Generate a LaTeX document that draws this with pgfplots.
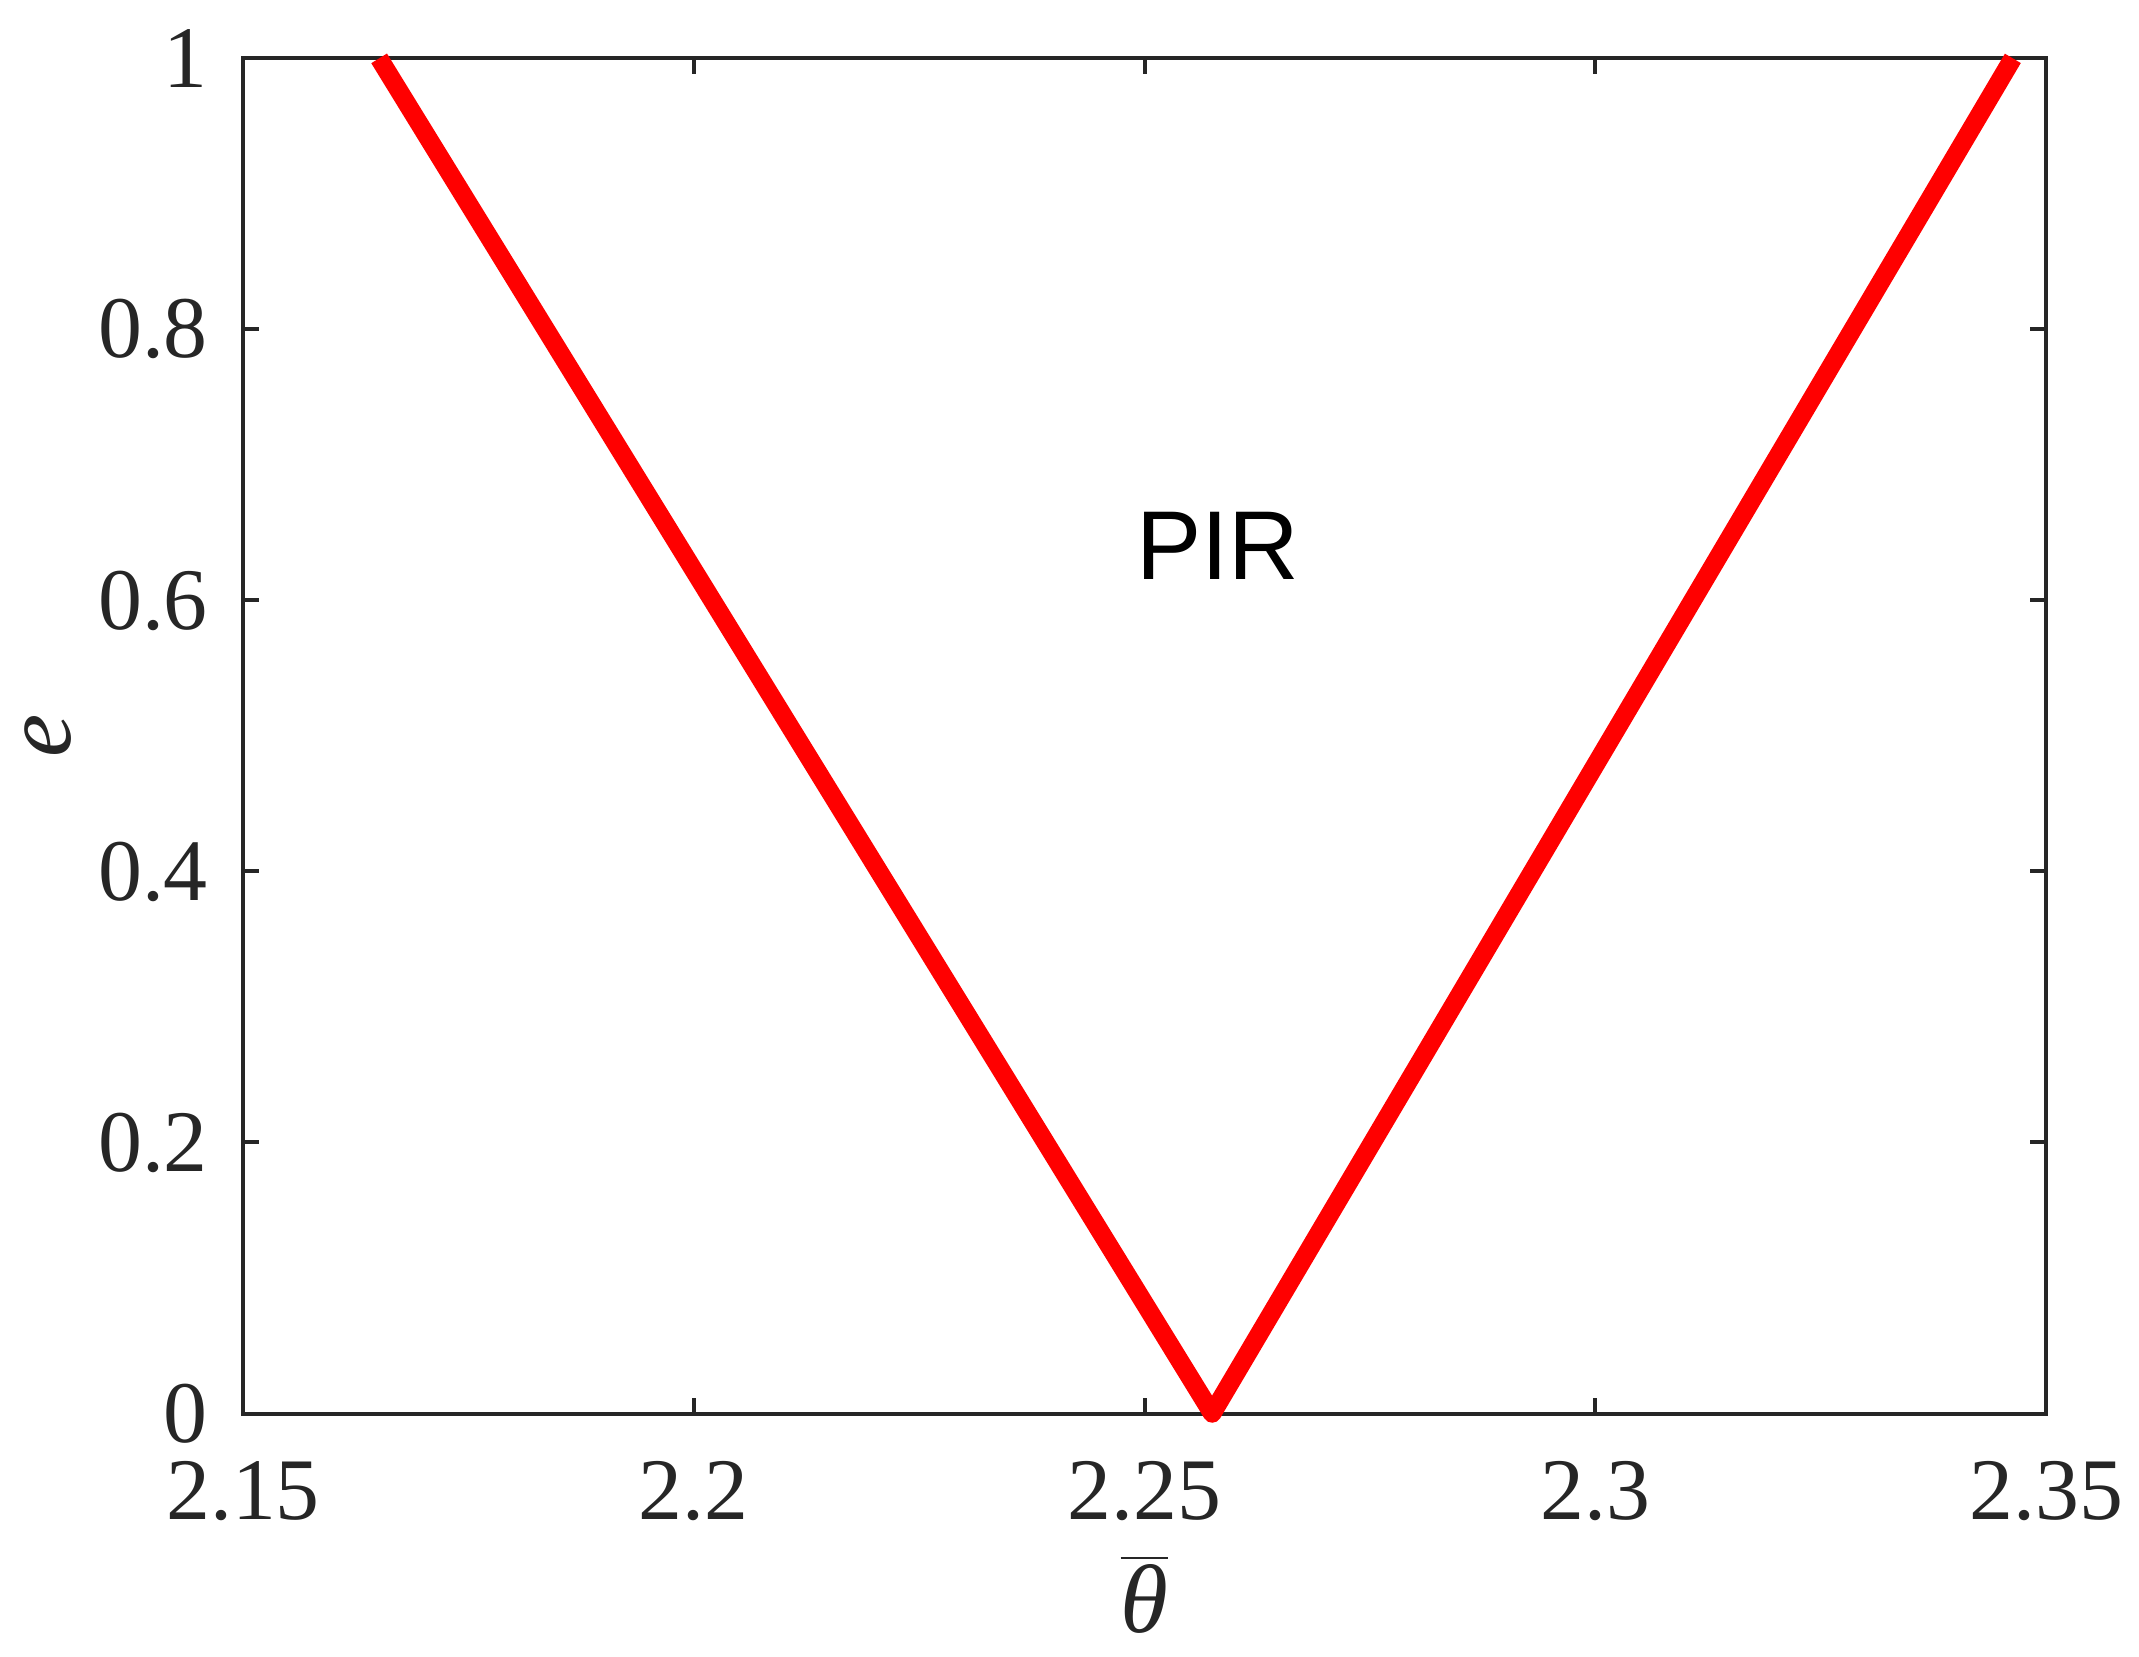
\documentclass[border=0pt]{standalone}
\usepackage{fontspec}
\setmainfont{Liberation Serif}
\newfontfamily\arial{Liberation Sans}
\usepackage{pgfplots}
\pgfplotsset{compat=1.18}
\definecolor{axgray}{HTML}{262626}
\begin{document}
\begin{tikzpicture}
\begin{axis}[
  width=361.4pt, height=271.6pt, scale only axis,
  xmin=2.15, xmax=2.35, ymin=0, ymax=1,
  xtick={2.15,2.2,2.25,2.3,2.35},
  xticklabels={2.15,2.2,2.25,2.3,2.35},
  ytick={0,0.2,0.4,0.6,0.8,1},
  yticklabels={0,0.2,0.4,0.6,0.8,1},
  tick align=inside, major tick length=3.2pt,
  axis line style={axgray, line width=0.8pt},
  every tick/.style={axgray, line width=0.8pt},
  tick label style={font=\fontsize{17.6}{20}\selectfont, text=axgray},
  xticklabel style={yshift=-6pt},
  yticklabel style={xshift=-3.5pt},
  label style={font=\fontsize{19.5}{22}\selectfont, text=axgray},
  xlabel={$\overline{\mbox{\itshape θ}}$},
  ylabel={\itshape e},
  xlabel style={yshift=0pt},
  ylabel style={at={(axis description cs:-0.108,0.5)}, anchor=center, inner sep=0pt},
  clip=false,
]
\addplot[red, line width=3.7pt, line join=round, line cap=butt] coordinates {
  (2.1651,1) (2.2575,0) (2.3463,1)
};
\node[font=\arial\fontsize{19.6}{22}\selectfont] at (axis cs:2.2581,0.6406) {PIR};
\coordinate (bl) at (rel axis cs:0,0);
\coordinate (tr) at (rel axis cs:1,1);
\end{axis}
\pgfresetboundingbox
\path ([shift={(-48.7pt,-48.6pt)}]bl) rectangle ([shift={(18.6pt,11.7pt)}]tr);
\end{tikzpicture}
\end{document}
